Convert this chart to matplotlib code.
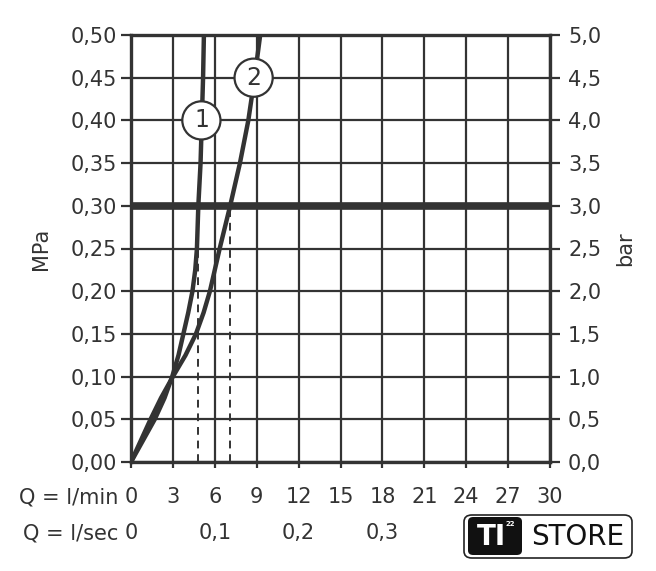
import matplotlib.pyplot as plt
from matplotlib.patches import FancyBboxPatch
import matplotlib.transforms as mtransforms

# pressure (MPa) and flow readings (l/min) for the two curves
p1 = [0, 0.025, 0.05, 0.075, 0.10, 0.125, 0.15, 0.175, 0.20, 0.225, 0.25, 0.30, 0.35, 0.40, 0.45, 0.50]
q1 = [0, 0.85, 1.7, 2.4, 2.95, 3.4, 3.75, 4.1, 4.4, 4.6, 4.72, 4.82, 4.98, 5.07, 5.16, 5.22]
p2 = [0, 0.025, 0.05, 0.075, 0.10, 0.125, 0.15, 0.175, 0.20, 0.25, 0.30, 0.35, 0.40, 0.45, 0.50]
q2 = [0, 0.7, 1.4, 2.15, 3.0, 3.9, 4.65, 5.2, 5.65, 6.35, 7.1, 7.8, 8.4, 8.85, 9.25]

p_ref = 0.30
q_ref = [4.82, 7.1]

lmin_ticks = [0, 3, 6, 9, 12, 15, 18, 21, 24, 27, 30]
lsec_ticks = [0, 0.1, 0.2, 0.3]
mpa_ticks = [0, 0.05, 0.10, 0.15, 0.20, 0.25, 0.30, 0.35, 0.40, 0.45, 0.50]
bar_ticks = [0, 0.5, 1.0, 1.5, 2.0, 2.5, 3.0, 3.5, 4.0, 4.5, 5.0]

c = '#333333'
fs = 15
plt.rcParams['font.family'] = 'DejaVu Sans'

fig = plt.figure(figsize=(6.56, 5.71), dpi=100)
ax = fig.add_axes([131/656, 1-462/571, 419/656, 427/571])
ax.set_xlim(0, 30)
ax.set_ylim(0, 0.5)

ax.set_xticks(lmin_ticks)
ax.set_yticks(mpa_ticks)
ax.set_xticklabels([])
ax.set_yticklabels([('%.2f' % v).replace('.', ',') for v in mpa_ticks], fontsize=fs, color=c)
ax.grid(True, color=c, linewidth=1.6)
ax.tick_params(axis='x', direction='out', length=4, width=1.6, color=c)
ax.tick_params(axis='y', direction='out', length=7, width=1.6, color=c, pad=3)
for s in ax.spines.values():
    s.set_color(c)
    s.set_linewidth(2.4)
ax.set_ylabel('MPa', fontsize=fs, color=c, labelpad=14)

ax2 = ax.twinx()
ax2.set_ylim(0, 5)
ax2.set_yticks(bar_ticks)
ax2.set_yticklabels([('%.1f' % v).replace('.', ',') for v in bar_ticks], fontsize=fs, color=c)
ax2.tick_params(axis='y', direction='out', length=7, width=1.6, color=c, pad=6)
for s in ax2.spines.values():
    s.set_visible(False)
ax2.set_ylabel('bar', fontsize=fs, color=c, labelpad=10)

# reference line at 3 bar and dashed drops
ax.axhline(p_ref, color=c, linewidth=5.5, zorder=3)
for q in q_ref:
    ax.plot([q, q], [0, p_ref], color=c, linewidth=1.4, linestyle=(0, (4, 3)), zorder=3)

ax.plot(q1, p1, color=c, linewidth=3.2, zorder=4, solid_capstyle='butt')
ax.plot(q2, p2, color=c, linewidth=3.2, zorder=4, solid_capstyle='butt')

for lbl, x, y in [('1', 5.04, 0.40), ('2', 8.78, 0.45)]:
    ax.text(x, y, lbl, fontsize=17, color=c, ha='center', va='center', zorder=6,
            bbox=dict(boxstyle='circle,pad=0.3', fc='white', ec=c, lw=1.6))

# flow rows under the chart
tr = mtransforms.blended_transform_factory(ax.transData, fig.transFigure)
fig.text(118/656, 1-497/571, 'Q = l/min', fontsize=fs, color=c, ha='right', va='center')
for v in lmin_ticks:
    ax.text(v, 1-497/571, str(v), transform=tr, fontsize=fs, color=c, ha='center', va='center')
fig.text(118/656, 1-533/571, 'Q = l/sec', fontsize=fs, color=c, ha='right', va='center')
for v in lsec_ticks:
    lab = '0' if v == 0 else ('%.1f' % v).replace('.', ',')
    ax.text(v*60, 1-533/571, lab, transform=tr, fontsize=fs, color=c, ha='center', va='center')

# store logo
fig.patches.append(FancyBboxPatch((464/656, 1-558/571), 168/656, 43/571,
                                  boxstyle='round,pad=0,rounding_size=0.012',
                                  transform=fig.transFigure, fc='white', ec='#222222', lw=1.2))
fig.patches.append(FancyBboxPatch((468/656, 1-555/571), 54/656, 38/571,
                                  boxstyle='round,pad=0,rounding_size=0.008',
                                  transform=fig.transFigure, fc='#111111', ec='none'))
fig.text(491/656, 1-537/571, 'TI', fontsize=20, fontweight='bold', color='white', ha='center', va='center')
fig.text(510/656, 1-524/571, '22', fontsize=5, fontweight='bold', color='white', ha='center', va='center')
fig.text(578/656, 1-537/571, 'STORE', fontsize=20, color='#111111', ha='center', va='center')

fig.savefig('out.png', dpi=100)
